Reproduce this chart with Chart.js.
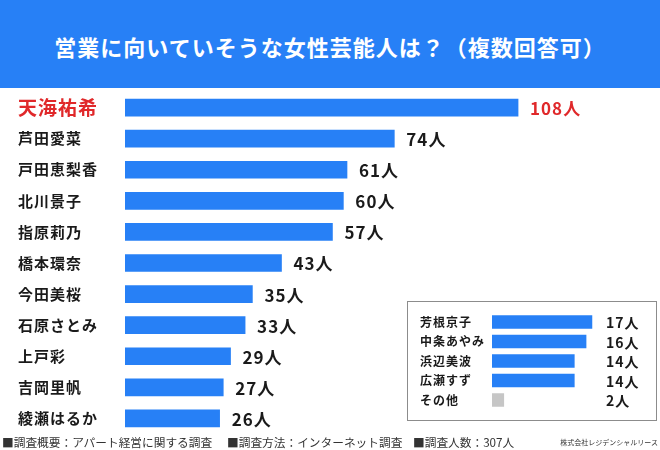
<!DOCTYPE html>
<html>
<head>
<meta charset="utf-8">
<script src="https://cdn.jsdelivr.net/npm/chart.js@4"></script>
<style>
  body { margin: 0; background: #fff; font-family: "Noto Sans CJK JP", sans-serif; }
  #wrap { position: relative; width: 660px; height: 450px; overflow: hidden; }
  #band { position: absolute; left: 0; top: 0; width: 660px; height: 88px; background: #2780f6; }
  #title { position: absolute; left: 0; top: 0; width: 660px; height: 88px; line-height: 92px; text-align: center;
           color: #fff; font-weight: bold; font-size: 22px; letter-spacing: 1px; }
  #main { position: absolute; left: 0; top: 0; }
  #box { position: absolute; left: 407px; top: 301px; width: 250px; height: 120px; box-sizing: border-box;
         border: 1px solid #8c8c8c; background: #fff; }
  #sub { position: absolute; left: 408px; top: 302px; }
  .foot { position: absolute; top: 434px; font-size: 11.7px; color: #333; white-space: nowrap; line-height: 16px; }
  #corp { position: absolute; top: 437px; right: 2px; font-size: 7px; color: #333; white-space: nowrap; line-height: 10px; }
</style>
</head>
<body>
<div id="wrap">
  <div id="band"></div>
  <div id="title">営業に向いていそうな女性芸能人は？（複数回答可）</div>
  <canvas id="main" width="660" height="450"></canvas>
  <div id="box"></div>
  <canvas id="sub" width="248" height="118"></canvas>
  <div class="foot" style="left:2px">■調査概要：アパート経営に関する調査</div>
  <div class="foot" style="left:227px">■調査方法：インターネット調査</div>
  <div class="foot" style="left:413px">■調査人数：307人</div>
  <div id="corp">株式会社レジデンシャルリース</div>
</div>
<script>
const names = ['天海祐希', '芦田愛菜', '戸田恵梨香', '北川景子', '指原莉乃', '橋本環奈', '今田美桜', '石原さとみ', '上戸彩', '吉岡里帆', '綾瀬はるか'];
const counts = [108, 74, 61, 60, 57, 43, 35, 33, 29, 27, 26];

const otherNames = ['芳根京子', '中条あやみ', '浜辺美波', '広瀬すず', 'その他'];
const otherCounts = [17, 16, 14, 14, 2];

const unit = '人';
const blue = '#2780f6';
const red = '#e0282a';
const grey = '#c6c6c6';

// draws "xx人" next to each bar (main) or in a fixed column (inset)
const valueLabels = {
    id: 'valueLabels',
    beforeDraw(chart) {
        chart.ctx.letterSpacing = '1px';
    },
    afterDatasetsDraw(chart, args, opts) {
        const ctx = chart.ctx;
        const meta = chart.getDatasetMeta(0);
        ctx.save();
        ctx.textBaseline = 'middle';
        ctx.textAlign = 'left';
        meta.data.forEach(function (bar, i) {
            const v = chart.data.datasets[0].data[i];
            const hot = opts.highlightFirst && i === 0;
            ctx.fillStyle = hot ? red : '#1a1a1a';
            ctx.font = 'bold ' + opts.size + 'px "Noto Sans CJK JP"';
            const x = opts.column != null ? chart.chartArea.left + opts.column : bar.x + opts.gap;
            ctx.fillText(v + unit, x, bar.y + 1);
        });
        ctx.restore();
    }
};

new Chart(document.getElementById('main'), {
    type: 'bar',
    data: {
        labels: names,
        datasets: [{ data: counts, backgroundColor: blue, barThickness: 17 }]
    },
    options: {
        indexAxis: 'y',
        responsive: false,
        animation: false,
        layout: { padding: { left: 18, right: 0, top: 92, bottom: 16 } },
        scales: {
            x: { display: false, min: 0, max: 147 },
            y: {
                grid: { display: false },
                border: { display: false },
                afterFit: function (scale) { scale.width = 107; },
                ticks: {
                    crossAlign: 'far',
                    color: function (c) { return c.index === 0 ? red : '#1a1a1a'; },
                    font: function (c) {
                        return { family: '"Noto Sans CJK JP"', weight: 'bold', size: c.index === 0 ? 19 : 15 };
                    }
                }
            }
        },
        plugins: {
            legend: { display: false },
            tooltip: { enabled: false },
            valueLabels: { size: 17, gap: 12, highlightFirst: true }
        }
    },
    plugins: [valueLabels]
});

new Chart(document.getElementById('sub'), {
    type: 'bar',
    data: {
        labels: otherNames,
        datasets: [{
            data: otherCounts,
            backgroundColor: otherNames.map(function (n, i) { return i === otherNames.length - 1 ? grey : blue; }),
            barThickness: 13
        }]
    },
    options: {
        indexAxis: 'y',
        responsive: false,
        animation: false,
        layout: { padding: { left: 12, right: 0, top: 8, bottom: 6 } },
        scales: {
            x: { display: false, min: 0, max: 27.9 },
            y: {
                grid: { display: false },
                border: { display: false },
                afterFit: function (scale) { scale.width = 72; },
                ticks: {
                    crossAlign: 'far',
                    color: '#1a1a1a',
                    font: { family: '"Noto Sans CJK JP"', weight: 'bold', size: 12 }
                }
            }
        },
        plugins: {
            legend: { display: false },
            tooltip: { enabled: false },
            valueLabels: { size: 14, column: 114 }
        }
    },
    plugins: [valueLabels]
});
</script>
</body>
</html>
